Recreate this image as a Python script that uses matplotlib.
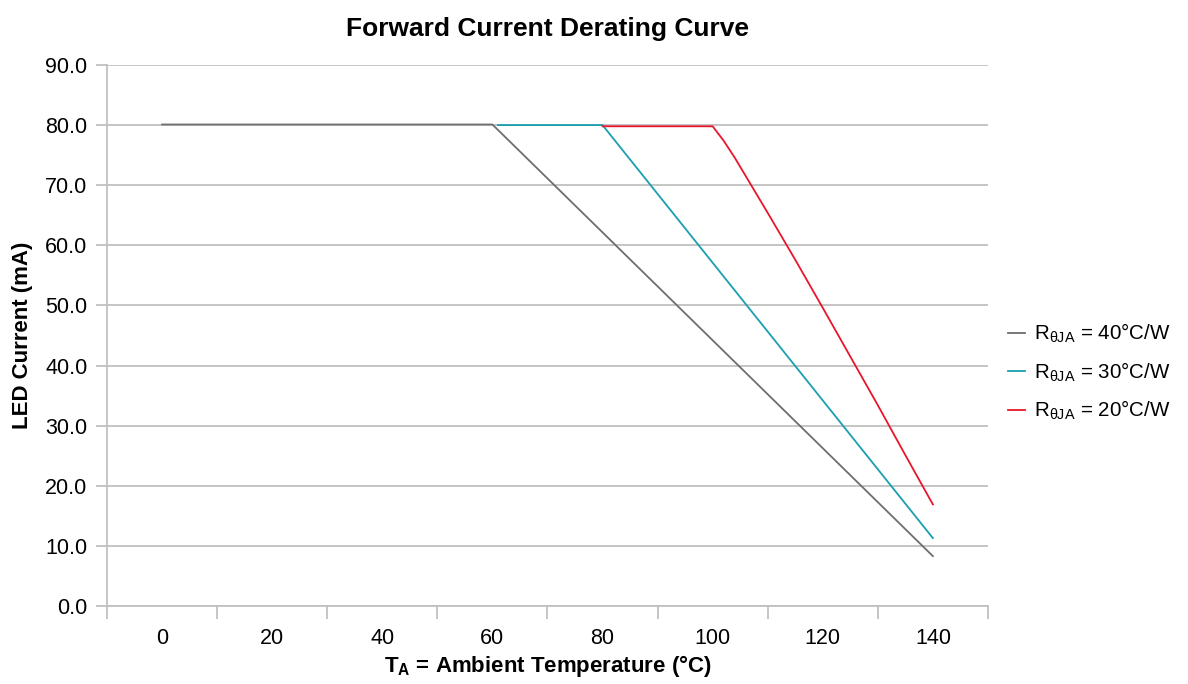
import numpy as np
import matplotlib
matplotlib.use('Agg')
import matplotlib.pyplot as plt

plt.rcParams['font.family'] = ['Liberation Sans', 'DejaVu Sans']
plt.rcParams['mathtext.fontset'] = 'custom'
plt.rcParams['mathtext.rm'] = 'Liberation Sans'
plt.rcParams['mathtext.bf'] = 'Liberation Sans:bold'

# Derating curves
temp_40 = [0, 60, 140]
curr_40 = [80.1, 80.1, 8.3]
temp_30 = [61, 80, 140]
curr_30 = [80.0, 80.0, 11.3]
temp_20 = [80, 100, 102, 104, 107, 110, 115, 120, 125, 130, 135, 140]
curr_20 = [79.8, 79.8, 77.4, 74.6, 70.0, 65.4, 57.6, 49.6, 41.5, 33.4, 25.1, 16.9]

labels = [r'R$_{\mathrm{θJA}}$ = 40°C/W',
          r'R$_{\mathrm{θJA}}$ = 30°C/W',
          r'R$_{\mathrm{θJA}}$ = 20°C/W']
colours = ['#6e6e6e', '#1a9fb0', '#e8162b']

fig = plt.figure(figsize=(11.88, 6.84), dpi=100)
ax = fig.add_axes([0.0901, 0.114, 0.7415, 0.791])

ax.plot(temp_40, curr_40, color=colours[0], lw=1.3, label=labels[0])
ax.plot(temp_30, curr_30, color=colours[1], lw=1.3, label=labels[1])
ax.plot(temp_20, curr_20, color=colours[2], lw=1.3, label=labels[2])

ax.set_xlim(-10, 150)
ax.set_ylim(0, 90)
ax.set_yticks(np.arange(0, 91, 10))
ax.set_yticklabels(['%.1f' % v for v in np.arange(0, 91, 10)])
ax.set_xticks(np.arange(0, 141, 20))
ax.set_xticks(np.arange(-10, 151, 20), minor=True)
ax.grid(True, axis='y', color='#c0c0c0', lw=1.3)
ax.set_axisbelow(True)
for s in ['top', 'right']:
    ax.spines[s].set_visible(False)
for s in ['left', 'bottom']:
    ax.spines[s].set_color('#c0c0c0')
    ax.spines[s].set_linewidth(1.3)
ax.tick_params(axis='x', which='major', length=0, pad=16, labelsize=15.5)
ax.tick_params(axis='x', which='minor', length=9, width=1.3, color='#c0c0c0')
ax.tick_params(axis='y', length=8, width=1.3, color='#c0c0c0', pad=6, labelsize=15.5)

ax.set_title('Forward Current Derating Curve', fontsize=19, fontweight='bold', pad=21)
ax.set_xlabel(r'$\mathbf{T_{A}}$ = Ambient Temperature (°C)', fontsize=16, fontweight='bold', labelpad=3)
ax.set_ylabel('LED Current (mA)', fontsize=16, fontweight='bold', labelpad=9)

fig.legend(loc='center left', bbox_to_anchor=(0.833, 0.456), frameon=False,
           fontsize=14.8, handlelength=0.8, handletextpad=0.45, labelspacing=0.72)

fig.savefig('out.png', dpi=100)
